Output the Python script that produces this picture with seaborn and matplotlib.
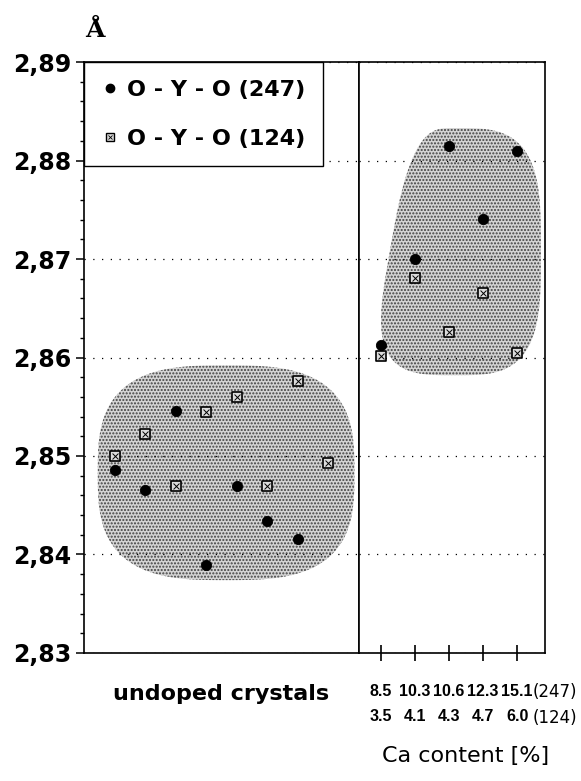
import matplotlib.pyplot as plt
import seaborn as sns
import numpy as np
from matplotlib.patches import Polygon
from matplotlib.lines import Line2D
from matplotlib.legend_handler import HandlerTuple
from matplotlib.ticker import MultipleLocator

sns.set_style("ticks")
plt.rcParams['font.family'] = ['DejaVu Sans']
plt.rcParams.update({'text.color': 'k', 'axes.labelcolor': 'k',
                     'xtick.color': 'k', 'ytick.color': 'k'})

# O-Y-O distances, undoped crystals
undoped_247 = [2.8486, 2.8465, 2.8546, 2.8389, 2.8470, 2.8434, 2.8416]
undoped_124 = [2.8500, 2.8522, 2.8470, 2.8545, 2.8560, 2.8470, 2.8576, 2.8493]

# Ca doped crystals
ca_247 = ["8.5", "10.3", "10.6", "12.3", "15.1"]
ca_124 = ["3.5", "4.1", "4.3", "4.7", "6.0"]
doped_247 = [2.8613, 2.8700, 2.8815, 2.8741, 2.8810]
doped_124 = [2.8602, 2.8681, 2.8626, 2.8665, 2.8605]

y_ticks = [2.83, 2.84, 2.85, 2.86, 2.87, 2.88, 2.89]
y_labels = ["2,83", "2,84", "2,85", "2,86", "2,87", "2,88", "2,89"]


def blob(ax, x0, x1, y0, y1, n=3.0, lean=0.0):
    # stippled rounded area behind the points
    t = np.linspace(0, 2 * np.pi, 300)
    c, s = np.cos(t), np.sin(t)
    u = np.sign(c) * np.abs(c) ** (2 / n)
    v = np.sign(s) * np.abs(s) ** (2 / n)
    u = u + lean * (v + 1) / 2 * np.clip(-u, 0, None)
    cx, cy = (x0 + x1) / 2, (y0 + y1) / 2
    a, b = (x1 - x0) / 2, (y1 - y0) / 2
    ax.add_patch(Polygon(np.c_[cx + a * u, cy + b * v], closed=True,
                         facecolor='#d4d4d4', edgecolor='#404040',
                         hatch='.....', lw=0, zorder=1))


def points(ax, xs, y247, y124):
    sns.scatterplot(x=xs[:len(y247)], y=y247, ax=ax, marker='o', s=55,
                    color='k', edgecolor='k', legend=False, zorder=4)
    xq = xs[:len(y124)]
    sns.scatterplot(x=xq, y=y124, ax=ax, marker='s', s=48, color='#dcdcdc',
                    edgecolor='k', linewidth=1.2, legend=False, zorder=4)
    sns.scatterplot(x=xq, y=y124, ax=ax, marker='x', s=18, color='k',
                    linewidth=0.7, legend=False, zorder=5)


fig = plt.figure(figsize=(5.81, 7.81), dpi=100)
ax1 = fig.add_axes([0.1446, 0.1639, 0.4733, 0.7567])
ax2 = fig.add_axes([0.6179, 0.1639, 0.3201, 0.7567], sharey=ax1)

for ax in (ax1, ax2):
    ax.set_axisbelow('line')
    ax.grid(axis='y', color='k', lw=0.9, ls=(0, (1, 6)))
    for sp in ax.spines.values():
        sp.set_visible(True)
        sp.set_color('k')
        sp.set_linewidth(1.2)

# left panel
blob(ax1, 0.45, 8.85, 2.8374, 2.8592, n=3.0)
points(ax1, np.arange(1, 9), undoped_247, undoped_124)
ax1.set_xlim(0, 9)
ax1.set_ylim(2.83, 2.89)
ax1.set_xticks([])
ax1.set_yticks(y_ticks)
ax1.set_yticklabels(y_labels, fontsize=17, fontweight='bold')
ax1.yaxis.set_minor_locator(MultipleLocator(0.002))
ax1.tick_params(axis='y', which='major', direction='out', length=6,
                width=1.1, pad=3)
ax1.tick_params(axis='y', which='minor', direction='out', length=3,
                width=1.0)
ax1.set_xlabel("undoped crystals", fontsize=16, fontweight='bold',
               labelpad=22)

# right panel
blob(ax2, -0.38, 4.7, 2.8582, 2.8833, n=3.4, lean=0.5)
points(ax2, np.arange(5), doped_247, doped_124)
ax2.set_xlim(-0.65, 4.82)
ax2.set_xticks(range(5))
ax2.set_xticklabels([f"{a}\n{b}" for a, b in zip(ca_247, ca_124)],
                    fontsize=11.5, fontweight='bold', linespacing=1.9,
                    family='Liberation Sans')
ax2.tick_params(axis='x', direction='inout', length=12, width=1.2,
                pad=16)
ax2.tick_params(axis='y', which='both', left=False, labelleft=False)

fig.text(0.917, 0.114, "(247)", fontsize=12, ha='left', va='center')
fig.text(0.917, 0.081, "(124)", fontsize=12, ha='left', va='center')
fig.text(0.802, 0.032, "Ca content [%]", fontsize=16, ha='center',
         va='center')
fig.text(0.163, 0.953, "Å", fontsize=18, fontweight='bold',
         family='DejaVu Serif', ha='center', va='baseline')

# legend
h247 = Line2D([], [], marker='o', ls='none', color='k', ms=6)
hsq = Line2D([], [], marker='s', ls='none', mfc='#dcdcdc', mec='k',
             ms=6, mew=1.0)
hx = Line2D([], [], marker='x', ls='none', mec='k', ms=3.5, mew=0.6)
leg = ax1.legend([h247, (hsq, hx)], ["O - Y - O (247)", "O - Y - O (124)"],
                 handler_map={tuple: HandlerTuple(ndivide=1)},
                 loc='upper left', bbox_to_anchor=(0, 1), borderaxespad=0,
                 frameon=True, fancybox=False, framealpha=1, edgecolor='k',
                 prop={'size': 16, 'weight': 'bold'}, borderpad=0.8,
                 handlelength=0.7, handletextpad=0.45, labelspacing=1.3)
leg.get_frame().set_linewidth(1.0)
leg.set_zorder(10)

fig.savefig("out.png", dpi=100)
